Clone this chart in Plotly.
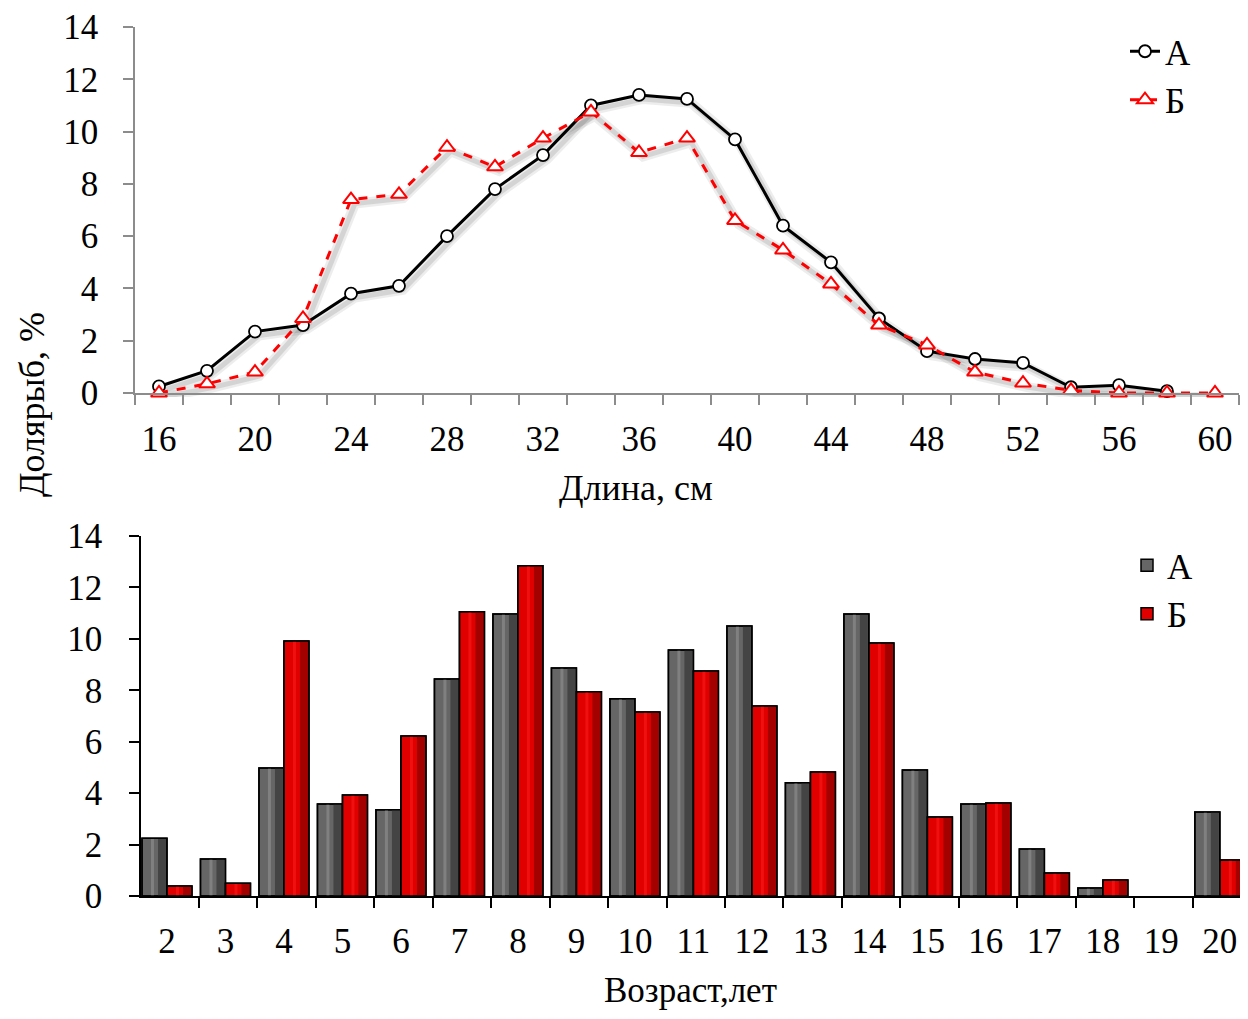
import plotly.graph_objects as go

# ---------------- data ----------------
length_cm = [16, 18, 20, 22, 24, 26, 28, 30, 32, 34, 36, 38, 40, 42, 44, 46, 48, 50, 52, 54, 56, 58, 60]
share_A_len = [0.25, 0.85, 2.35, 2.6, 3.8, 4.1, 6.0, 7.8, 9.1, 11.0, 11.4, 11.25, 9.7, 6.4, 5.0, 2.85, 1.6, 1.3, 1.15, 0.22, 0.3, 0.07, None]
share_B_len = [0.0, 0.35, 0.8, 2.85, 7.4, 7.6, 9.4, 8.65, 9.75, 10.75, 9.2, 9.75, 6.6, 5.47, 4.17, 2.6, 1.84, 0.8, 0.38, 0.1, 0.0, 0.0, 0.0]
length_ticks = [16, 20, 24, 28, 32, 36, 40, 44, 48, 52, 56, 60]

age_years = [2, 3, 4, 5, 6, 7, 8, 9, 10, 11, 12, 13, 14, 15, 16, 17, 18, 19, 20]
share_A_age = [2.25, 1.44, 4.98, 3.58, 3.35, 8.44, 10.97, 8.87, 7.67, 9.57, 10.5, 4.4, 10.97, 4.9, 3.58, 1.83, 0.31, None, 3.27]
share_B_age = [0.39, 0.5, 9.92, 3.93, 6.22, 11.05, 12.84, 7.94, 7.16, 8.75, 7.39, 4.82, 9.84, 3.07, 3.62, 0.89, 0.62, None, 1.4]

y_ticks = [0, 2, 4, 6, 8, 10, 12, 14]
series_names = ["А", "Б"]

# ---------------- geometry helpers (page has an 8px body margin) ----------------
PAGE_MARGIN = 8
FW, FH = 1248 - 2 * PAGE_MARGIN, 1019 - 2 * PAGE_MARGIN
def px_x(s):
    return min(1.0, max(0.0, (s - PAGE_MARGIN) / FW))
def px_y(s):
    return min(1.0, max(0.0, 1 - (s - PAGE_MARGIN) / FH))

FONT = "Liberation Serif, Times New Roman, serif"
FS = 35
TICK_FONT = dict(family=FONT, size=FS, color="black")
TITLE_FONT = dict(family=FONT, size=FS + 1, color="black")

fig = go.Figure()

# ---- top chart shadows (subplot x/y, shifted a few px) ----
for ys in (share_A_len, share_B_len):
    fig.add_trace(go.Scatter(x=length_cm, y=ys, mode="lines", xaxis="x", yaxis="y",
                             line=dict(color="rgba(0,0,0,0.07)", width=10),
                             showlegend=False, hoverinfo="skip", connectgaps=False))
    fig.add_trace(go.Scatter(x=length_cm, y=ys, mode="lines", xaxis="x", yaxis="y",
                             line=dict(color="rgba(0,0,0,0.10)", width=5),
                             showlegend=False, hoverinfo="skip", connectgaps=False))

# ---- top chart main lines (x2/y2) ----
fig.add_trace(go.Scatter(x=length_cm, y=share_A_len, mode="lines+markers", name=series_names[0],
                         xaxis="x2", yaxis="y2", legend="legend", legendgroup="a",
                         line=dict(color="black", width=3),
                         marker=dict(symbol="circle", size=12, color="white",
                                     line=dict(color="black", width=1.8)),
                         cliponaxis=False))
fig.add_trace(go.Scatter(x=length_cm, y=share_B_len, mode="lines+markers", name=series_names[1],
                         xaxis="x2", yaxis="y2", legend="legend", legendgroup="b",
                         line=dict(color="#ff0000", width=3, dash="dash"),
                         marker=dict(symbol="triangle-up", size=14, color="white",
                                     line=dict(color="#ff0000", width=2)),
                         cliponaxis=False))

# ---- bottom chart bars (x3/y3), bevel-like layers ----
BW = 0.4275
bar_styles = [
    (share_A_age, series_names[0], "#666666", "#444444", "#808080", -BW, "a"),
    (share_B_age, series_names[1], "#e00000", "#a30000", "#f01010", 0.0, "b"),
]
for vals, nm, main_c, dark_c, light_c, off, grp in bar_styles:
    fig.add_trace(go.Bar(x=age_years, y=vals, name=nm, xaxis="x3", yaxis="y3",
                         width=BW, offset=off, legend="legend2", legendgroup=grp,
                         marker=dict(color=main_c, line=dict(color="black", width=1.5))))
    fig.add_trace(go.Bar(x=age_years, y=vals, xaxis="x3", yaxis="y3",
                         width=BW * 0.32, offset=off + BW * 0.64, showlegend=False,
                         hoverinfo="skip", marker=dict(color=dark_c, line=dict(width=0))))
    fig.add_trace(go.Bar(x=age_years, y=vals, xaxis="x3", yaxis="y3",
                         width=BW * 0.12, offset=off + BW * 0.36, showlegend=False,
                         hoverinfo="skip", marker=dict(color=light_c, line=dict(width=0))))
    fig.add_trace(go.Bar(x=age_years, y=vals, xaxis="x3", yaxis="y3",
                         width=BW, offset=off, showlegend=False, hoverinfo="skip",
                         marker=dict(color="rgba(0,0,0,0)", line=dict(color="black", width=1.5))))

# ---------------- axes ----------------
SCREEN_RIGHT = 1248 - PAGE_MARGIN

top_left, top_right, top_bot, top_top = 135, 1239, 393, 27
px_per_cm = (top_right - top_left) / ((length_cm[-1] + 1) - (length_cm[0] - 1))
len_range = [length_cm[0] - 1, length_cm[-1] + 1]
len_minor = [v - 1 for v in length_cm] + [length_cm[-1] + 1]

sh = 4
sh_right = min(top_right + sh, SCREEN_RIGHT)
sh_range = [len_range[0], len_range[1] - ((top_right + sh) - sh_right) / px_per_cm]

bot_left, bot_right_ref, bot_bot, bot_top = 141, 1245, 896, 536
px_per_age = 58.5
bot_right = min(bot_right_ref, SCREEN_RIGHT)
age_range = [age_years[0] - 0.444, age_years[-1] + 0.43 - (bot_right_ref - bot_right) / px_per_age]
age_minor = [v - 0.46 for v in age_years]

fig.update_layout(
    width=FW, height=FH,
    margin=dict(l=0, r=0, t=0, b=0, autoexpand=False),
    paper_bgcolor="white", plot_bgcolor="rgba(0,0,0,0)",
    barmode="overlay",
    xaxis=dict(domain=[px_x(top_left + sh), px_x(sh_right)], range=sh_range, visible=False,
               fixedrange=True, automargin=False),
    yaxis=dict(domain=[px_y(top_bot + sh), px_y(top_top + sh)], range=[0, 14], visible=False,
               fixedrange=True, automargin=False),
    xaxis2=dict(domain=[px_x(top_left), px_x(top_right)], range=len_range, anchor="y2", automargin=False,
                showgrid=False, zeroline=False, showline=True, linecolor="#8c8c8c", linewidth=1.5,
                tickmode="array", tickvals=length_ticks, ticks="", tickfont=TICK_FONT,
                ticklabelstandoff=14,
                minor=dict(tickmode="array", tickvals=len_minor, ticks="outside", ticklen=10,
                           tickcolor="#8c8c8c", tickwidth=1.5, showgrid=False)),
    yaxis2=dict(domain=[px_y(top_bot), px_y(top_top)], range=[0, 14], anchor="x2", automargin=False,
                showgrid=False, zeroline=False, showline=True, linecolor="#8c8c8c", linewidth=1.5,
                tickmode="array", tickvals=y_ticks, ticks="outside", ticklen=10,
                tickcolor="#8c8c8c", tickwidth=1.5, tickfont=TICK_FONT, ticklabelstandoff=18),
    xaxis3=dict(domain=[px_x(bot_left), px_x(bot_right)], range=age_range, anchor="y3", automargin=False,
                showgrid=False, zeroline=False, showline=True, linecolor="black", linewidth=1.5,
                tickmode="array", tickvals=age_years, ticks="", tickfont=TICK_FONT,
                ticklabelstandoff=13,
                minor=dict(tickmode="array", tickvals=age_minor, ticks="outside", ticklen=10,
                           tickcolor="black", tickwidth=1.5, showgrid=False)),
    yaxis3=dict(domain=[px_y(bot_bot), px_y(bot_top)], range=[0, 14], anchor="x3", automargin=False,
                showgrid=False, zeroline=False, showline=True, linecolor="black", linewidth=1.5,
                tickmode="array", tickvals=y_ticks, ticks="outside", ticklen=10,
                tickcolor="black", tickwidth=1.5, tickfont=TICK_FONT, ticklabelstandoff=20),
    legend=dict(x=px_x(1125), y=px_y(22), xanchor="left", yanchor="top",
                font=dict(family=FONT, size=FS, color="black"), bgcolor="rgba(0,0,0,0)",
                tracegroupgap=13, traceorder="normal"),
    legend2=dict(x=px_x(1127), y=px_y(536), xanchor="left", yanchor="top",
                 font=dict(family=FONT, size=FS, color="black"), bgcolor="rgba(0,0,0,0)",
                 tracegroupgap=18, traceorder="normal"),
    annotations=[
        dict(text="Долярыб, %", x=px_x(32), y=px_y(405), xref="paper", yref="paper",
             xanchor="center", yanchor="middle", showarrow=False, textangle=-90, font=TITLE_FONT),
        dict(text="Длина, см", x=px_x(636), y=px_y(488), xref="paper", yref="paper",
             xanchor="center", yanchor="middle", showarrow=False, font=TITLE_FONT),
        dict(text="Возраст,лет", x=px_x(690), y=px_y(1011), xref="paper", yref="paper",
             xanchor="center", yanchor="bottom", showarrow=False, borderpad=0,
             font=dict(family=FONT, size=FS, color="black")),
    ],
)

fig.write_html("out.html")
